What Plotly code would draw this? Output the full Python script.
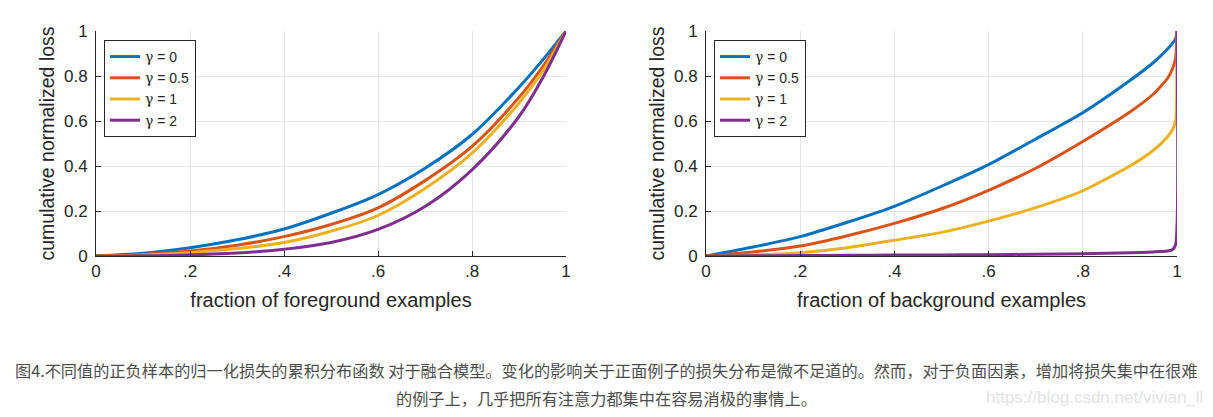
import plotly.graph_objects as go

# left panel: foreground examples
fg_x = [0, 0.1, 0.2, 0.3, 0.4, 0.5, 0.6, 0.7, 0.8, 0.9, 0.95, 1.0]
fg_g0 = [0, 0.012, 0.037, 0.072, 0.12, 0.19, 0.273, 0.39, 0.54, 0.75, 0.87, 1.0]
fg_g05 = [0, 0.007, 0.022, 0.048, 0.086, 0.14, 0.214, 0.335, 0.487, 0.705, 0.84, 1.0]
fg_g1 = [0, 0.004, 0.015, 0.033, 0.06, 0.11, 0.18, 0.30, 0.457, 0.68, 0.82, 1.0]
fg_g2 = [0, 0.001, 0.005, 0.013, 0.03, 0.06, 0.118, 0.22, 0.383, 0.62, 0.79, 1.0]

# right panel: background examples
bg_x = [0, 0.1, 0.2, 0.3, 0.4, 0.5, 0.6, 0.7, 0.8, 0.9, 0.95, 0.98, 0.99, 0.997, 1.0]
bg_g0 = [0, 0.04, 0.086, 0.15, 0.221, 0.31, 0.406, 0.52, 0.637, 0.78, 0.86, 0.92, 0.945, 0.965, 1.0]
bg_g05 = [0, 0.018, 0.044, 0.09, 0.145, 0.21, 0.292, 0.39, 0.509, 0.64, 0.72, 0.79, 0.83, 0.88, 1.0]
bg_g1 = [0, 0.005, 0.015, 0.037, 0.07, 0.105, 0.155, 0.215, 0.29, 0.40, 0.47, 0.53, 0.56, 0.60, 1.0]
bg_g2 = [0, 0.001, 0.002, 0.003, 0.004, 0.005, 0.006, 0.008, 0.01, 0.014, 0.018, 0.022, 0.028, 0.05, 1.0]

gamma_values = ["0", "0.5", "1", "2"]
colors = ["#0072BD", "#D95319", "#EDB120", "#7E2F8E"]

x_ticks = [0, 0.2, 0.4, 0.6, 0.8, 1]
x_ticktext = ["0", ".2", ".4", ".6", ".8", "1"]
y_ticks = [0, 0.2, 0.4, 0.6, 0.8, 1]
y_ticktext = ["0", "0.2", "0.4", "0.6", "0.8", "1"]

caption1 = ("图4.不同值的正负样本的归一化损失的累积分布函数 对于融合模型。变化的影响关于正面例子的损失分布是微不足道的。"
            "然而，对于负面因素，增加将损失集中在很难")
caption2 = "的例子上，几乎把所有注意力都集中在容易消极的事情上。"
watermark = "https://blog.csdn.net/vivian_ll"

W, H = 1213, 417
FONT = "Liberation Sans, Arial, sans-serif"
TXT = "#262626"


def gamma_label(v):
    return "<span style='font-family:DejaVu Serif'>γ</span> = " + v


fig = go.Figure()

for i, ys in enumerate([fg_g0, fg_g05, fg_g1, fg_g2]):
    fig.add_trace(go.Scatter(
        x=fg_x, y=ys, mode="lines", name=gamma_label(gamma_values[i]),
        line=dict(color=colors[i], width=3, shape="spline", smoothing=1.0),
        xaxis="x", yaxis="y", legend="legend",
    ))

for i, ys in enumerate([bg_g0, bg_g05, bg_g1, bg_g2]):
    fig.add_trace(go.Scatter(
        x=bg_x, y=ys, mode="lines", name=gamma_label(gamma_values[i]),
        line=dict(color=colors[i], width=3, shape="spline", smoothing=0.6),
        xaxis="x2", yaxis="y2", legend="legend2",
    ))


def xaxis(dom, title, anchor):
    return dict(
        domain=dom, anchor=anchor, range=[0, 1], automargin=False,
        tickvals=x_ticks, ticktext=x_ticktext,
        ticks="inside", ticklen=5, tickcolor=TXT,
        showline=True, linecolor=TXT, linewidth=1, mirror=False,
        showgrid=True, gridcolor="#e6e6e6", zeroline=False,
        tickfont=dict(size=17, color=TXT, family=FONT),
        title=dict(text=title, font=dict(size=20, color=TXT, family=FONT), standoff=12),
    )


def yaxis(anchor):
    return dict(
        domain=[1 - 256 / H, 1 - 31 / H], anchor=anchor, range=[0, 1], automargin=False,
        tickvals=y_ticks, ticktext=y_ticktext,
        ticks="inside", ticklen=5, tickcolor=TXT, ticklabelstandoff=4,
        showline=True, linecolor=TXT, linewidth=1, mirror=False,
        showgrid=True, gridcolor="#e6e6e6", zeroline=False,
        tickfont=dict(size=17, color=TXT, family=FONT),
        title=dict(text="cumulative normalized loss",
                   font=dict(size=19.5, color=TXT, family=FONT), standoff=4),
    )


legend_style = dict(
    bgcolor="white", bordercolor="#262626", borderwidth=1,
    font=dict(size=14, color=TXT, family=FONT),
    itemwidth=30, tracegroupgap=0,
    xanchor="left", yanchor="top", y=1 - 40 / H,
)

fig.update_layout(
    width=W, height=H,
    margin=dict(l=0, r=0, t=0, b=0),
    paper_bgcolor="white", plot_bgcolor="white",
    xaxis=xaxis([96 / W, 566 / W], "fraction of foreground examples", "y"),
    yaxis=yaxis("x"),
    xaxis2=xaxis([706 / W, 1177 / W], "fraction of background examples", "y2"),
    yaxis2=yaxis("x2"),
    legend=dict(x=104 / W, **legend_style),
    legend2=dict(x=714 / W, **legend_style),
    annotations=[
        dict(text=caption1, x=0.5, y=1 - 370 / H, xref="paper", yref="paper",
             showarrow=False, xanchor="center", yanchor="middle",
             font=dict(size=16.2, color="#4d4d4d", family="Noto Sans CJK SC")),
        dict(text=caption2, x=0.5, y=1 - 398 / H, xref="paper", yref="paper",
             showarrow=False, xanchor="center", yanchor="middle",
             font=dict(size=16.2, color="#4d4d4d", family="Noto Sans CJK SC")),
        dict(text=watermark, x=1205 / W, y=1 - 397 / H, xref="paper", yref="paper",
             showarrow=False, xanchor="right", yanchor="middle",
             font=dict(size=17, color="#e3e3e3", family="Liberation Sans Narrow, Arial Narrow, sans-serif")),
    ],
)

fig.write_html("out.html", config={"displayModeBar": False},
               post_script="document.body.style.margin='0';document.body.style.overflow='hidden';")
